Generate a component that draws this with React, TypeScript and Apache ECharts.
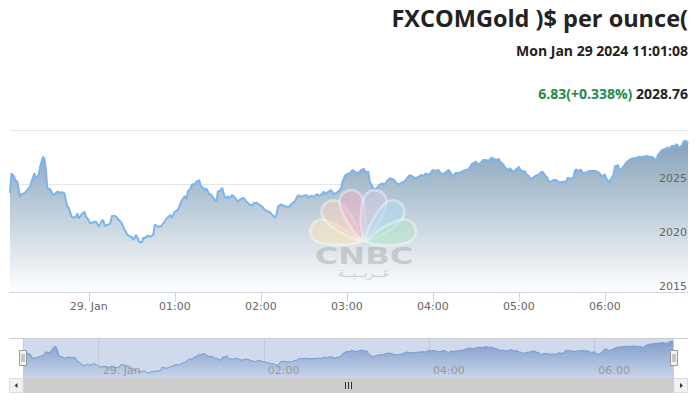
import React, { useEffect, useRef } from 'react';
import * as echarts from 'echarts';

// Minutes relative to 29 Jan 00:00 and the gold price at each point
const minutes = [
  -55, -54, -52, -51, -50, -48, -47, -45, -42, -41,
  -40, -38, -37, -35, -34, -32, -31, -30, -29, -27,
  -25, -24, -22, -20, -19, -17, -15, -14, -12, -11,
  -9, -8, -7, -5, -3, -2, -1, 1, 4, 5,
  7, 9, 10, 11, 13, 15, 16, 18, 19, 21,
  23, 25, 27, 29, 30, 31, 33, 35, 37, 38,
  39, 41, 43, 45, 46, 48, 50, 52, 54, 57,
  58, 60, 62, 64, 65, 67, 68, 69, 71, 72,
  74, 75, 77, 78, 80, 81, 82, 84, 85, 87,
  89, 90, 92, 93, 95, 97, 98, 100, 102, 104,
  105, 108, 110, 112, 114, 115, 117, 119, 121, 123,
  125, 126, 128, 130, 131, 132, 134, 136, 138, 140,
  141, 144, 145, 146, 148, 150, 152, 153, 155, 157,
  159, 161, 163, 164, 165, 167, 169, 171, 172, 174,
  176, 177, 179, 180, 182, 184, 185, 187, 189, 190,
  192, 193, 195, 196, 198, 199, 201, 203, 205, 206,
  208, 210, 212, 213, 215, 217, 218, 220, 222, 224,
  226, 228, 230, 232, 234, 235, 237, 239, 240, 242,
  244, 245, 247, 249, 251, 252, 254, 256, 258, 259,
  261, 263, 265, 267, 268, 270, 272, 274, 275, 277,
  279, 281, 282, 284, 286, 287, 289, 290, 292, 294,
  295, 297, 299, 300, 301, 303, 304, 306, 307, 308,
  309, 311, 312, 314, 316, 317, 318, 320, 321, 322,
  324, 326, 328, 329, 331, 333, 334, 336, 338, 339,
  340, 342, 343, 345, 347, 349, 351, 353, 355, 357,
  358, 360, 361, 363, 364, 366, 367, 369, 370, 371,
  373, 375, 377, 378, 380, 382, 384, 385, 387, 389,
  391, 392, 394, 396, 397, 399, 400, 402, 404, 405,
  407, 408, 410, 412, 414, 415, 417, 418,
];

const prices = [
  2024.17, 2025.99, 2025.68, 2025.21, 2025.28, 2023.82, 2024.05, 2024.14, 2024.6, 2024.75,
  2025.21, 2025.99, 2025.53, 2025.83, 2026.6, 2027.53, 2027.38, 2026.45, 2024.6, 2024.51,
  2023.98, 2024.05, 2024.29, 2024.19, 2024.23, 2024.14, 2022.9, 2022.81, 2021.97, 2021.88,
  2021.97, 2022.29, 2021.82, 2022.19, 2022.44, 2021.97, 2021.82, 2021.36, 2021.51, 2021.51,
  2021.05, 2021.57, 2021.67, 2021.14, 2021.2, 2021.36, 2022.04, 2022.04, 2021.97, 2021.67,
  2021.36, 2020.74, 2020.28, 2020.12, 2020.12, 2019.81, 2020.28, 2019.66, 2019.6, 2020.03,
  2019.97, 2020.21, 2020.12, 2020.28, 2021.27, 2021.05, 2021.05, 2021.36, 2021.76, 2022.13,
  2021.88, 2022.44, 2022.59, 2023.21, 2023.52, 2023.89, 2023.58, 2024.29, 2024.6, 2024.97,
  2024.97, 2025.21, 2025.37, 2024.84, 2024.6, 2024.35, 2024.6, 2024.05, 2024.05, 2023.68,
  2023.36, 2024.29, 2024.44, 2024.66, 2023.73, 2023.82, 2023.68, 2023.98, 2023.73, 2023.36,
  2023.52, 2023.73, 2023.36, 2023.12, 2022.99, 2023.21, 2023.27, 2023.06, 2022.9, 2022.59,
  2022.44, 2022.44, 2022.13, 2021.88, 2022.19, 2022.9, 2023.12, 2022.96, 2022.9, 2022.9,
  2023.12, 2023.43, 2023.73, 2023.98, 2023.82, 2023.92, 2023.98, 2023.73, 2023.92, 2023.82,
  2024.05, 2023.92, 2024.14, 2024.29, 2024.05, 2024.29, 2024.44, 2024.05, 2024.14, 2024.29,
  2024.6, 2025.21, 2025.83, 2025.9, 2025.99, 2026.3, 2026.2, 2025.99, 2026.14, 2026.3,
  2026.39, 2026.08, 2026.14, 2025.21, 2024.75, 2024.44, 2024.66, 2024.97, 2025.06, 2024.91,
  2025.28, 2025.53, 2025.46, 2025.37, 2025.06, 2024.97, 2025.12, 2025.21, 2025.53, 2025.83,
  2025.68, 2025.53, 2025.68, 2025.83, 2025.77, 2025.99, 2025.83, 2026.14, 2026.3, 2026.2,
  2026.3, 2026.08, 2025.9, 2026.08, 2026.3, 2026.14, 2025.68, 2026.05, 2025.99, 2026.08,
  2026.2, 2026.3, 2026.36, 2026.82, 2026.92, 2027.06, 2026.76, 2027.06, 2027.22, 2027.22,
  2027.13, 2027.44, 2027.38, 2027.22, 2027.31, 2027.06, 2026.82, 2026.6, 2026.3, 2026.45,
  2026.2, 2026.2, 2026.45, 2026.6, 2026.3, 2026.14, 2026.2, 2025.77, 2025.77, 2025.44,
  2025.53, 2025.68, 2025.77, 2025.9, 2026.14, 2026.08, 2025.83, 2025.58, 2025.21, 2025.21,
  2025.37, 2025.37, 2025.16, 2025.16, 2025.21, 2025.21, 2025.58, 2025.46, 2025.58, 2026.2,
  2026.36, 2026.14, 2026.36, 2025.99, 2026.08, 2026.2, 2026.2, 2026.2, 2026.14, 2025.9,
  2025.68, 2025.9, 2025.53, 2025.12, 2025.44, 2025.83, 2026.6, 2026.76, 2026.45, 2026.3,
  2026.6, 2027.01, 2027.22, 2027.31, 2027.38, 2027.44, 2027.53, 2027.47, 2027.53, 2027.59,
  2027.53, 2027.53, 2027.44, 2027.13, 2027.69, 2027.99, 2028.15, 2028.24, 2028.36, 2028.31,
  2028.55, 2028.45, 2028.68, 2028.36, 2028.61, 2028.98, 2028.98, 2028.76,
];

const hourTicks = [0, 60, 120, 180, 240, 300, 360];
const navigatorTicks = [0, 120, 240, 360];
const dayLabel = '29. Jan';
const titleText = 'FXCOMGold )$ per ounce(';
const dateText = 'Mon Jan 29 2024 11:01:08';
const changeText = '6.83(+0.338%)';
const lastPriceText = '2028.76';
const logoWord = 'CNBC';
const logoArabic = 'عــربــيــة';

const featherPath =
  'M0,-3 C-7,-12 -11.5,-30 -11,-40 C-10,-54 10,-54 11,-40 C11.5,-30 7,-12 0,-3 Z';
const featherAngles = [74, 44, 16, -16, -44, -74];
const featherColors = ['#fcb711', '#f37021', '#cc004c', '#6460aa', '#0089d0', '#0db14b'];

function pastel(hex: string, k: number): string {
  const n = parseInt(hex.slice(1), 16);
  const r = (n >> 16) & 255;
  const g = (n >> 8) & 255;
  const b = n & 255;
  const mix = (c: number) => Math.round(c * k + 255 * (1 - k));
  return 'rgb(' + mix(r) + ',' + mix(g) + ',' + mix(b) + ')';
}

function timeLabel(m: number): string {
  if (m === 0) return dayLabel;
  const h = Math.floor(m / 60);
  return (h < 10 ? '0' : '') + h + ':00';
}

export default function App() {
  const ref = useRef<HTMLDivElement>(null);

  useEffect(() => {
    if (!ref.current) return;
    echarts.graphic.registerShape('feather', echarts.graphic.extendPath(featherPath, {}) as any);
    const chart = echarts.init(ref.current, null, { renderer: 'svg' });
    const data = minutes.map((m, i) => [m, prices[i]]);
    const xMin = minutes[0];
    const xMax = minutes[minutes.length - 1];
    const labelFont = 'DejaVu Sans, sans-serif';

    const feathers = featherAngles.map((a, i) => ({
      type: 'feather',
      x: 363,
      y: 243,
      scaleX: 1.06,
      scaleY: 1.08,
      rotation: (a * Math.PI) / 180,
      z: 20,
      silent: true,
      style: {
        fill: pastel(featherColors[i], 0.32),
        opacity: 0.5,
        stroke: 'rgba(255,255,255,0.75)',
        lineWidth: 2.5,
      },
    }));

    const option: any = {
      animation: false,
      backgroundColor: '#ffffff',
      grid: [
        { left: 10, right: 10, top: 130, height: 162 },
        { left: 23, right: 24, top: 338, height: 40 },
      ],
      xAxis: [
        {
          type: 'value',
          gridIndex: 0,
          min: xMin,
          max: xMax,
          axisLine: { lineStyle: { color: '#ccd6eb', width: 1 } },
          axisTick: { customValues: hourTicks, length: 10, lineStyle: { color: '#ccd6eb' } },
          axisLabel: {
            customValues: hourTicks,
            formatter: (v: number) => timeLabel(v),
            color: '#666666',
            fontSize: 11,
            fontFamily: labelFont,
            margin: 9,
          },
          splitLine: { show: false },
        },
        {
          type: 'value',
          gridIndex: 1,
          position: 'top',
          min: xMin,
          max: xMax,
          axisLine: { show: false },
          axisLabel: { show: false },
          axisTick: {
            customValues: navigatorTicks,
            inside: true,
            length: 40,
            lineStyle: { color: '#e6e6e6' },
          },
          splitLine: { show: false },
        },
        {
          type: 'value',
          gridIndex: 1,
          position: 'bottom',
          min: xMin,
          max: xMax,
          z: 5,
          axisLine: { show: false },
          axisTick: { show: false },
          axisLabel: {
            inside: true,
            customValues: navigatorTicks,
            formatter: (v: number) => timeLabel(v),
            align: 'left',
            padding: [0, 0, 0, 4],
            margin: 2,
            color: '#999999',
            fontSize: 11,
            fontFamily: labelFont,
          },
          splitLine: { show: false },
        },
      ],
      yAxis: [
        {
          type: 'value',
          gridIndex: 0,
          position: 'right',
          min: 2015,
          max: 2030,
          interval: 5,
          z: 5,
          axisLine: { show: false },
          axisTick: { show: false },
          splitLine: { show: false },
          axisLabel: {
            inside: true,
            margin: 1,
            verticalAlign: 'bottom',
            showMaxLabel: false,
            formatter: (v: number) => (v >= 2030 ? '' : String(v)),
            color: '#666666',
            fontSize: 11,
            fontFamily: labelFont,
          },
        },
        {
          type: 'value',
          gridIndex: 0,
          position: 'left',
          min: 2015,
          max: 2030,
          interval: 5,
          axisLine: { show: false },
          axisTick: { show: false },
          axisLabel: { show: false },
          splitLine: { lineStyle: { color: '#e6e6e6', width: 1 } },
        },
        {
          type: 'value',
          gridIndex: 1,
          min: 2018.1,
          max: 2030,
          show: false,
          splitLine: { show: false },
        },
      ],
      series: [
        {
          type: 'line',
          xAxisIndex: 0,
          yAxisIndex: 0,
          data,
          showSymbol: false,
          lineStyle: { color: '#7cb5ec', width: 2 },
          itemStyle: { color: '#7cb5ec' },
          areaStyle: {
            origin: 'start',
            opacity: 1,
            color: new echarts.graphic.LinearGradient(0, 0, 0, 1, [
              { offset: 0, color: '#86a3ba' },
              { offset: 1, color: '#ffffff' },
            ]),
          },
          z: 2,
        },
        {
          type: 'line',
          xAxisIndex: 2,
          yAxisIndex: 2,
          data,
          showSymbol: false,
          lineStyle: { color: '#6f9bd6', width: 1 },
          itemStyle: { color: '#6f9bd6' },
          areaStyle: {
            origin: 'start',
            opacity: 1,
            color: new echarts.graphic.LinearGradient(0, 0, 0, 1, [
              { offset: 0, color: '#829ec9' },
              { offset: 1, color: '#c8d5ec' },
            ]),
          },
          z: 2,
        },
      ],
      graphic: [
        {
          type: 'text',
          x: 688,
          y: 18,
          z: 20,
          style: {
            text: titleText,
            align: 'right',
            verticalAlign: 'middle',
            font: 'bold 23.5px "Open Sans", sans-serif',
            fill: '#222222',
          },
        },
        {
          type: 'text',
          x: 688,
          y: 50,
          z: 20,
          style: {
            text: dateText,
            align: 'right',
            verticalAlign: 'middle',
            font: 'bold 14px "Open Sans", sans-serif',
            fill: '#222222',
          },
        },
        {
          type: 'text',
          x: 688,
          y: 93,
          z: 20,
          style: {
            text: '{g|' + changeText + '} {k|' + lastPriceText + '}',
            align: 'right',
            verticalAlign: 'middle',
            font: 'bold 14px "Open Sans", sans-serif',
            rich: {
              g: { fill: '#1f8a4c', font: 'bold 14px "Open Sans", sans-serif' },
              k: { fill: '#222222', font: 'bold 14px "Open Sans", sans-serif' },
            },
          },
        },
        // navigator mask (full range selected)
        {
          type: 'rect',
          z: 1,
          shape: { x: 23, y: 338, width: 651, height: 40 },
          style: { fill: 'rgba(102,133,194,0.3)' },
          silent: true,
        },
        // navigator outline
        {
          type: 'line',
          z: 15,
          shape: { x1: 9, y1: 338.5, x2: 688, y2: 338.5 },
          style: { stroke: '#cccccc', lineWidth: 1 },
          silent: true,
        },
        {
          type: 'line',
          z: 15,
          shape: { x1: 23.5, y1: 338, x2: 23.5, y2: 378 },
          style: { stroke: '#cccccc', lineWidth: 1 },
          silent: true,
        },
        {
          type: 'line',
          z: 15,
          shape: { x1: 673.5, y1: 338, x2: 673.5, y2: 378 },
          style: { stroke: '#cccccc', lineWidth: 1 },
          silent: true,
        },
        // handles
        ...[23, 674].map((cx) => ({
          type: 'group',
          z: 16,
          children: [
            {
              type: 'rect',
              z: 16,
              shape: { x: cx - 3.5, y: 350.5, width: 7, height: 15 },
              style: { fill: '#f2f2f2', stroke: '#999999', lineWidth: 1 },
            },
            {
              type: 'line',
              z: 17,
              shape: { x1: cx - 1, y1: 354, x2: cx - 1, y2: 362 },
              style: { stroke: '#999999', lineWidth: 1 },
            },
            {
              type: 'line',
              z: 17,
              shape: { x1: cx + 1, y1: 354, x2: cx + 1, y2: 362 },
              style: { stroke: '#999999', lineWidth: 1 },
            },
          ],
        })),
        // scrollbar
        {
          type: 'rect',
          z: 15,
          shape: { x: 9, y: 378, width: 679, height: 15 },
          style: { fill: '#f2f2f2' },
          silent: true,
        },
        {
          type: 'rect',
          z: 15,
          shape: { x: 23, y: 378, width: 651, height: 15 },
          style: { fill: '#cccccc' },
          silent: true,
        },
        {
          type: 'rect',
          z: 15,
          shape: { x: 9.5, y: 378.5, width: 13.5, height: 14 },
          style: { fill: '#f2f2f2', stroke: '#dddddd', lineWidth: 1 },
          silent: true,
        },
        {
          type: 'rect',
          z: 15,
          shape: { x: 674, y: 378.5, width: 13.5, height: 14 },
          style: { fill: '#f2f2f2', stroke: '#dddddd', lineWidth: 1 },
          silent: true,
        },
        {
          type: 'polygon',
          z: 16,
          shape: { points: [[14.5, 385.5], [17.5, 383], [17.5, 388]] },
          style: { fill: '#333333' },
          silent: true,
        },
        {
          type: 'polygon',
          z: 16,
          shape: { points: [[683, 385.5], [680, 383], [680, 388]] },
          style: { fill: '#333333' },
          silent: true,
        },
        ...[345.5, 348.5, 351.5].map((lx) => ({
          type: 'line',
          z: 16,
          shape: { x1: lx, y1: 382, x2: lx, y2: 389 },
          style: { stroke: '#333333', lineWidth: 1 },
          silent: true,
        })),
        // watermark
        ...feathers,
        {
          type: 'text',
          x: 364,
          y: 256.5,
          z: 20,
          scaleX: 1.4,
          silent: true,
          style: {
            text: logoWord,
            align: 'center',
            verticalAlign: 'middle',
            font: 'bold 23px "DejaVu Sans", sans-serif',
            fill: 'rgba(150,150,150,0.4)',
          },
        },
        {
          type: 'text',
          x: 364,
          y: 272,
          z: 20,
          silent: true,
          style: {
            text: logoArabic,
            align: 'center',
            verticalAlign: 'middle',
            font: '13px "DejaVu Sans", sans-serif',
            fill: 'rgba(150,150,150,0.4)',
          },
        },
      ],
    };

    chart.setOption(option);
    return () => {
      chart.dispose();
    };
  }, []);

  return (
    <div
      ref={ref}
      style={{ position: 'fixed', left: 0, top: 0, width: 698, height: 408, background: '#ffffff' }}
    />
  );
}
